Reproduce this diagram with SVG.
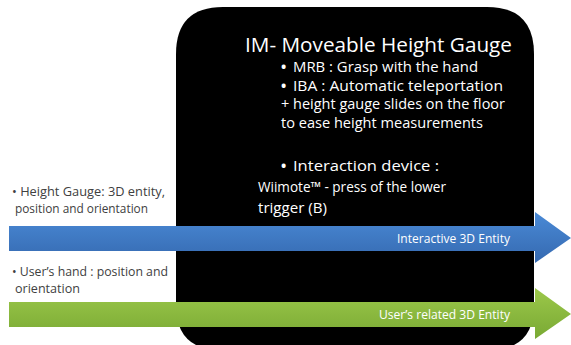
<svg xmlns="http://www.w3.org/2000/svg" width="571" height="345" viewBox="0 0 571 345">
  <defs>
    <linearGradient id="gBlue" x1="0" y1="0" x2="0" y2="1">
      <stop offset="0" stop-color="#4a8ad6"/>
      <stop offset="1" stop-color="#3569b0"/>
    </linearGradient>
    <linearGradient id="gGreen" x1="0" y1="0" x2="0" y2="1">
      <stop offset="0" stop-color="#9cc84a"/>
      <stop offset="1" stop-color="#79a934"/>
    </linearGradient>
    <style>
      .w { fill: #ffffff; font-family: "Open Sans", "Liberation Sans", sans-serif; }
      .g { fill: #404040; font-family: "Open Sans", "Liberation Sans", sans-serif; font-size: 12px; }
      .title { font-size: 20px; }
      .body { font-size: 14px; }
      .bul { font-size: 14px; font-weight: bold; }
      .lbl { font-size: 12px; }
    </style>
  </defs>
  <rect width="571" height="345" fill="#ffffff"/>

  <g id="im-box">
    <path d="M176,54 Q176,7 223,7 L487,7 Q534,7 534,54 L534,305 Q534,350 489,350 L221,350 Q176,350 176,305 Z" fill="#000000"/>
    <text class="w title" x="245" y="52" textLength="267" lengthAdjust="spacingAndGlyphs">IM- Moveable Height Gauge</text>
    <text class="w bul" x="281" y="72">•</text>
    <text class="w body" x="293" y="72" textLength="185" lengthAdjust="spacingAndGlyphs">MRB : Grasp with the hand</text>
    <text class="w bul" x="281" y="91">•</text>
    <text class="w body" x="293" y="91" textLength="210" lengthAdjust="spacingAndGlyphs">IBA : Automatic teleportation</text>
    <text class="w body" x="281" y="109" textLength="224" lengthAdjust="spacingAndGlyphs">+ height gauge slides on the floor</text>
    <text class="w body" x="281" y="128" textLength="202" lengthAdjust="spacingAndGlyphs">to ease height measurements</text>
    <text class="w bul" x="281" y="171">•</text>
    <text class="w body" x="293" y="171" textLength="146" lengthAdjust="spacingAndGlyphs">Interaction device  :</text>
    <text class="w body" x="258" y="192" textLength="188" lengthAdjust="spacingAndGlyphs">Wiimote™ - press of the lower</text>
    <text class="w body" x="258" y="213" textLength="69" lengthAdjust="spacingAndGlyphs">trigger (B)</text>
  </g>

  <g id="height-gauge-note">
    <text class="g" x="12" y="196" textLength="153" lengthAdjust="spacingAndGlyphs">• Height Gauge: 3D entity,</text>
    <text class="g" x="15" y="213" textLength="133" lengthAdjust="spacingAndGlyphs">position and orientation</text>
  </g>

  <g id="users-hand-note">
    <text class="g" x="12" y="276" textLength="156" lengthAdjust="spacingAndGlyphs">• User’s hand : position and</text>
    <text class="g" x="15" y="293" textLength="65" lengthAdjust="spacingAndGlyphs">orientation</text>
  </g>

  <g id="connectors">
    <g id="interactive-arrow">
      <path d="M9,226 L535,226 L535,212 L571,238 L535,263 L535,251 L9,251 Z" fill="url(#gBlue)"/>
      <text class="w lbl" x="510" y="243" text-anchor="end" textLength="113" lengthAdjust="spacingAndGlyphs">Interactive 3D Entity</text>
    </g>
    <g id="user-arrow">
      <path d="M9,302 L535,302 L535,288 L571,314 L535,339 L535,327 L9,327 Z" fill="url(#gGreen)"/>
      <text class="w lbl" x="510" y="319" text-anchor="end" textLength="131" lengthAdjust="spacingAndGlyphs">User’s related 3D Entity</text>
    </g>
  </g>
</svg>
